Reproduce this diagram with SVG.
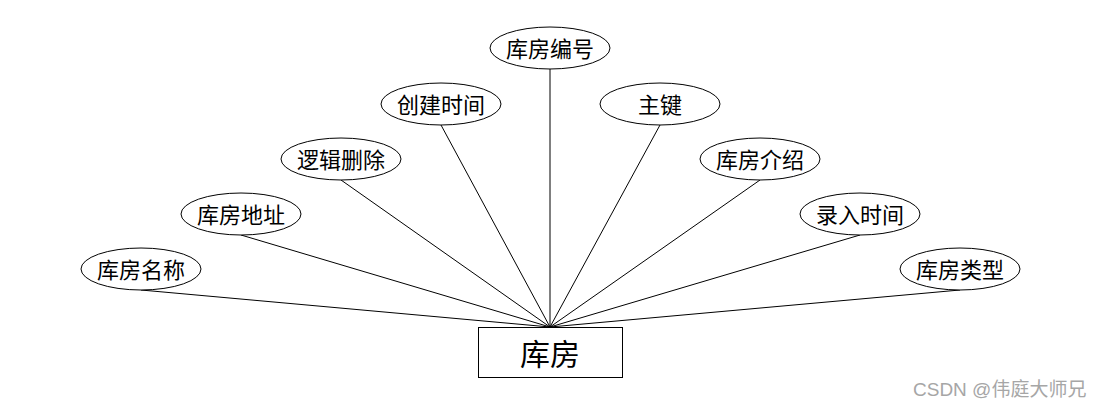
<svg xmlns="http://www.w3.org/2000/svg" width="1100" height="408" viewBox="0 0 1100 408">
<style>
.n ellipse{fill:#fff;stroke:#000;stroke-width:1}
.n rect{fill:#fff;stroke:#000;stroke-width:1}
text{font-family:"Noto Sans CJK SC","Noto Sans",sans-serif;fill:#000;text-anchor:middle;dominant-baseline:central}
.a text{font-size:22px}
#connectors line{stroke:#000;stroke-width:1}
.wm{font-size:19px;fill:#a6a6a6;text-anchor:start;dominant-baseline:alphabetic;font-family:"Liberation Sans","Noto Sans CJK SC",sans-serif}
</style>
<rect width="1100" height="408" fill="#fff"/>
<g id="connectors">
<line x1="141" y1="290" x2="550" y2="327"/>
<line x1="241" y1="235" x2="550" y2="327"/>
<line x1="341" y1="180" x2="550" y2="327"/>
<line x1="441" y1="125" x2="550" y2="327"/>
<line x1="550" y1="69" x2="550" y2="327"/>
<line x1="660" y1="125" x2="550" y2="327"/>
<line x1="760" y1="180" x2="550" y2="327"/>
<line x1="860" y1="235" x2="550" y2="327"/>
<line x1="960" y1="290" x2="550" y2="327"/>
</g>
<g id="a1" class="n a"><ellipse cx="141" cy="269" rx="60" ry="21"/><text x="141" y="268">库房名称</text></g>
<g id="a2" class="n a"><ellipse cx="241" cy="214" rx="60" ry="21"/><text x="241" y="213">库房地址</text></g>
<g id="a3" class="n a"><ellipse cx="341" cy="159" rx="60" ry="21"/><text x="341" y="158">逻辑删除</text></g>
<g id="a4" class="n a"><ellipse cx="441" cy="104" rx="60" ry="21"/><text x="441" y="103">创建时间</text></g>
<g id="a5" class="n a"><ellipse cx="550" cy="48" rx="60" ry="21"/><text x="550" y="47">库房编号</text></g>
<g id="a6" class="n a"><ellipse cx="660" cy="104" rx="60" ry="21"/><text x="660" y="103">主键</text></g>
<g id="a7" class="n a"><ellipse cx="760" cy="159" rx="60" ry="21"/><text x="760" y="158">库房介绍</text></g>
<g id="a8" class="n a"><ellipse cx="860" cy="214" rx="60" ry="21"/><text x="860" y="213">录入时间</text></g>
<g id="a9" class="n a"><ellipse cx="960" cy="269" rx="60" ry="21"/><text x="960" y="268">库房类型</text></g>
<g id="entity" class="n"><rect x="478.5" y="327.5" width="144" height="50"/><text x="550" y="352" font-size="30">库房</text></g>
<text class="wm" x="913" y="396">CSDN @伟庭大师兄</text>
</svg>
